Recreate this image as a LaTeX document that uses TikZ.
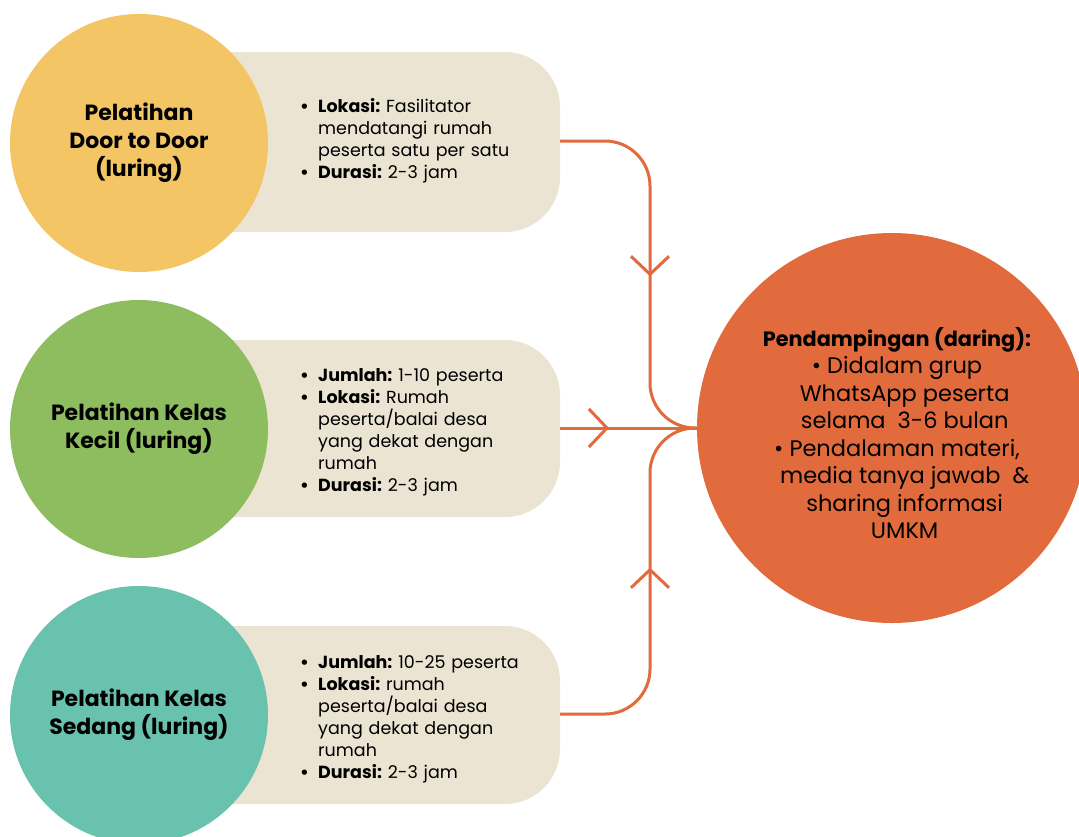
\documentclass[tikz,border=0pt]{standalone}
\usepackage{fontspec}
\setmainfont{Poppins}
\usetikzlibrary{arrows.meta,decorations.markings}

\definecolor{sunny}{HTML}{F3C564}
\definecolor{leaf}{HTML}{8EBD5F}
\definecolor{sea}{HTML}{68C2AE}
\definecolor{sand}{HTML}{EBE4D3}
\definecolor{ember}{HTML}{E16B3D}

% bullet item with hanging indent
\newcommand\bitem[1]{\noindent\hangindent=18pt\hangafter=1\makebox[18pt][l]{\bfseries •}#1\par}
\newcommand\hang{\hphantom{•\ }}
\frenchspacing

\tikzset{
  chev/.tip={Straight Barb[length=18pt,width=38pt,line width=3pt]},
  stage/.style={circle,minimum size=258pt,inner sep=0pt,align=center,
    font=\bfseries\fontsize{22}{28}\selectfont},
  panel/.style={fill=sand},
  paneltext/.style={anchor=base west,inner sep=0pt,text width=250pt,align=left,
    font=\frenchspacing\fontsize{17.5}{22}\selectfont},
  conn/.style={draw=ember,line width=3pt,rounded corners=45pt},
  chevat/.style={postaction={decorate},
    decoration={markings,mark=at position #1 with {\arrow[ember]{chev}}}}
}

\begin{document}
\begin{tikzpicture}[x=1pt,y=-1pt]
\useasboundingbox (0,0) rectangle (1079,836);
\clip (0,0) rectangle (1079,836);

% panels behind the stage circles
\path[panel] (150,52) [rounded corners=55pt] -- (560,52) -- (560,232) [sharp corners] -- (150,232) -- cycle;
\path[panel] (150,340) [rounded corners=55pt] -- (560,340) -- (560,517) [sharp corners] -- (150,517) -- cycle;
\path[panel] (150,626) [rounded corners=55pt] -- (560,626) -- (560,804) [sharp corners] -- (150,804) -- cycle;

\coordinate (e1) at (560,141);
\coordinate (e2) at (560,428);
\coordinate (e3) at (560,714);
\coordinate (j) at (650,428);

% stage circles
\node[stage,fill=sunny] (s1) at (139,143) {Pelatihan\\Door to Door\\(luring)};
\node[stage,fill=leaf] (s2) at (139,429) {Pelatihan Kelas\\Kecil (luring)};
\node[stage,fill=sea] (s3) at (139,715) {Pelatihan Kelas\\Sedang (luring)};

% panel texts
\node[paneltext] (t1) at (300,112) {%
  \bitem{\textbf{Lokasi:} Fasilitator\newline mendatangi rumah\newline peserta satu per satu}%
  \bitem{\textbf{Durasi:} 2-3 jam}};
\node[paneltext] (t2) at (300,381) {%
  \bitem{\textbf{Jumlah:} 1-10 peserta}%
  \bitem{\textbf{Lokasi:} Rumah\newline peserta/balai desa\newline yang dekat dengan\newline rumah}%
  \bitem{\textbf{Durasi:} 2-3 jam}};
\node[paneltext] (t3) at (300,668) {%
  \bitem{\textbf{Jumlah:} 10-25 peserta}%
  \bitem{\textbf{Lokasi:} rumah\newline peserta/balai desa\newline yang dekat dengan\newline rumah}%
  \bitem{\textbf{Durasi:} 2-3 jam}};

% online mentoring circle
\node[circle,fill=ember,minimum size=390pt,inner sep=0pt] (pend) at (892,428) {};
\node[align=center,inner sep=0pt,font=\frenchspacing\fontsize{22.5}{27.5}\selectfont] (ptext) at (897,433) {%
  {\fontsize{20.8}{27.5}\selectfont\bfseries Pendampingan (daring):}\\
  •\ Didalam grup\\
  \hang WhatsApp peserta\\
  \hang selama~~3-6 bulan\\
  •\ Pendalaman materi,\\
  \hang media tanya jawab~~\&\\
  \hang sharing informasi\\
  \hang UMKM};

% connectors
\draw[conn,chevat=206pt] (e1) -| (j) -- (pend.west);
\draw[conn,chevat=49pt] (e2) -- (pend.west);
\draw[conn,chevat=217pt] (e3) -| (j) -- (pend.west);
\end{tikzpicture}
\end{document}
